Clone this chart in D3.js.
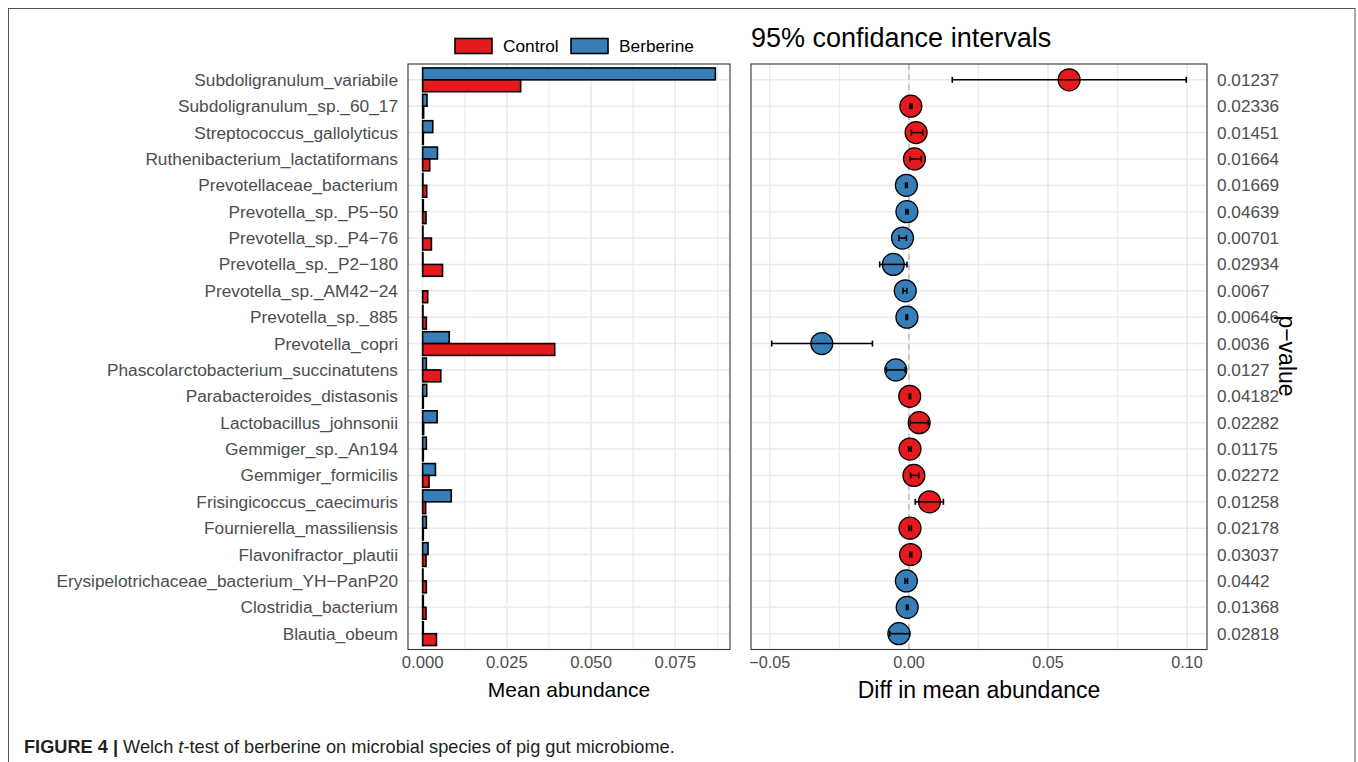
<!DOCTYPE html>
<html><head><meta charset="utf-8">
<script src="https://cdn.jsdelivr.net/npm/d3@7"></script>
<style>
html,body{margin:0;padding:0;background:#fff;}
svg text{font-family:"Liberation Sans",Arial,Helvetica,sans-serif;}
</style></head>
<body>
<svg id="chart" width="1358" height="762"></svg>
<script>
// ---------- DATA ----------
const species = ["Subdoligranulum_variabile","Subdoligranulum_sp._60_17","Streptococcus_gallolyticus",
"Ruthenibacterium_lactatiformans","Prevotellaceae_bacterium","Prevotella_sp._P5\u221250","Prevotella_sp._P4\u221276",
"Prevotella_sp._P2\u2212180","Prevotella_sp._AM42\u221224","Prevotella_sp._885","Prevotella_copri",
"Phascolarctobacterium_succinatutens","Parabacteroides_distasonis","Lactobacillus_johnsonii","Gemmiger_sp._An194",
"Gemmiger_formicilis","Frisingicoccus_caecimuris","Fournierella_massiliensis","Flavonifractor_plautii",
"Erysipelotrichaceae_bacterium_YH\u2212PanP20","Clostridia_bacterium","Blautia_obeum"];
const berberineMean = [0.0869,0.0013,0.0030,0.0044,0.0001,0.0002,0.0001,0.0001,0.0000,0.0001,0.0079,0.0011,0.0012,0.0043,0.0011,0.0038,0.0085,0.0011,0.0016,0.0001,0.0002,0.0002];
const controlMean   = [0.0291,0.0003,0.0002,0.0021,0.0012,0.0010,0.0026,0.0059,0.0015,0.0011,0.0392,0.0054,0.0002,0.0003,0.0002,0.0019,0.0009,0.0002,0.0010,0.0011,0.0010,0.0041];
const diffEstimate  = [0.0576,0.0007,0.0026,0.0020,-0.0009,-0.0007,-0.0023,-0.0056,-0.0013,-0.0007,-0.0313,-0.0047,0.0003,0.0037,0.0004,0.0018,0.0074,0.0004,0.0006,-0.0009,-0.0006,-0.0036];
const diffLower     = [0.0156,0.0004,0.0009,0.0004,-0.0012,-0.0011,-0.0036,-0.0105,-0.0021,-0.0010,-0.0493,-0.0081,0.0001,0.0005,-0.0001,0.0006,0.0023,0.0000,0.0003,-0.0014,-0.0009,-0.0069];
const diffUpper     = [0.0997,0.0011,0.0050,0.0044,-0.0006,-0.0003,-0.0009,-0.0007,-0.0007,-0.0005,-0.0131,-0.0013,0.0006,0.0070,0.0008,0.0036,0.0124,0.0009,0.0010,-0.0005,-0.0003,0.0003];
const pValues = ["0.01237","0.02336","0.01451","0.01664","0.01669","0.04639","0.00701","0.02934","0.0067","0.00646","0.0036","0.0127","0.04182","0.02282","0.01175","0.02272","0.01258","0.02178","0.03037","0.0442","0.01368","0.02818"];
const groups = ["Control","Berberine"];
const groupColors = ["#E41A1C","#377EB8"];
const leftTicks = [0,0.025,0.05,0.075];
const rightTicks = [-0.05,0,0.05,0.10];

// ---------- LAYOUT ----------
const svg = d3.select("#chart");
const panelTop = 64, panelBottom = 649.5;
const L = {x0:408, x1:730};
const R = {x0:751, x1:1207};
const grid = "#EBEBEB", border = "#333333", txt = "#4D4D4D";

svg.append("rect").attr("x",8.5).attr("y",8.5).attr("width",1346.5).attr("height",800)
  .attr("fill","none").attr("stroke","#555").attr("stroke-width",1);

const y = d3.scalePoint().domain(species).range([panelTop,panelBottom]).padding(0.6);
const step = y.step();

const maxMean = d3.max(berberineMean.concat(controlMean));
const xL = d3.scaleLinear().domain([-0.05*maxMean, 1.05*maxMean]).range([L.x0,L.x1]);
const rMin = d3.min(diffLower), rMax = d3.max(diffUpper), rR = rMax - rMin;
const xR = d3.scaleLinear().domain([rMin-0.05*rR, rMax+0.05*rR]).range([R.x0,R.x1]);

function minorOf(ticks, scale){
  const st = ticks[1]-ticks[0];
  const out=[]; const [d0,d1]=scale.domain();
  for(let v=ticks[0]-st/2; v<=d1; v+=st){ if(v>=d0) out.push(v); }
  return out;
}

function panel(P, xs, ticks){
  const g = svg.append("g");
  g.append("rect").attr("x",P.x0).attr("y",panelTop).attr("width",P.x1-P.x0).attr("height",panelBottom-panelTop).attr("fill","#fff");
  g.selectAll(".mn").data(minorOf(ticks,xs)).enter().append("line")
    .attr("x1",d=>xs(d)).attr("x2",d=>xs(d)).attr("y1",panelTop).attr("y2",panelBottom)
    .attr("stroke",grid).attr("stroke-width",1.1);
  g.selectAll(".mj").data(ticks).enter().append("line")
    .attr("x1",d=>xs(d)).attr("x2",d=>xs(d)).attr("y1",panelTop).attr("y2",panelBottom)
    .attr("stroke",grid).attr("stroke-width",1.6);
  g.selectAll(".hy").data(species).enter().append("line")
    .attr("x1",P.x0).attr("x2",P.x1).attr("y1",d=>y(d)).attr("y2",d=>y(d))
    .attr("stroke",grid).attr("stroke-width",1.6);
  return g;
}

// ---------- LEFT PANEL ----------
const gl = panel(L, xL, leftTicks);
const bw = step*0.45;
gl.selectAll(".bb").data(species).enter().append("rect")
  .attr("x",xL(0)).attr("y",d=>y(d)-bw).attr("height",bw)
  .attr("width",(d,i)=>xL(berberineMean[i])-xL(0))
  .attr("fill",groupColors[1]).attr("stroke","#000").attr("stroke-width",1.6);
gl.selectAll(".cb").data(species).enter().append("rect")
  .attr("x",xL(0)).attr("y",d=>y(d)).attr("height",bw)
  .attr("width",(d,i)=>xL(controlMean[i])-xL(0))
  .attr("fill",groupColors[0]).attr("stroke","#000").attr("stroke-width",1.6);
svg.append("rect").attr("x",L.x0).attr("y",panelTop).attr("width",L.x1-L.x0).attr("height",panelBottom-panelTop)
  .attr("fill","none").attr("stroke",border).attr("stroke-width",1.1);

svg.append("g").selectAll("text").data(species).enter().append("text")
  .attr("x",398).attr("y",d=>y(d)).attr("dy","0.35em").attr("text-anchor","end")
  .attr("font-size",17.3).attr("fill",txt).text(d=>d);
const fmt3 = d3.format(".3f");
svg.append("g").selectAll("text").data(leftTicks).enter().append("text")
  .attr("x",d=>xL(d)).attr("y",668).attr("text-anchor","middle")
  .attr("font-size",16.7).attr("fill",txt).text(d=>fmt3(d));
svg.append("text").attr("x",(L.x0+L.x1)/2).attr("y",697).attr("text-anchor","middle")
  .attr("font-size",21).attr("fill","#000").text("Mean abundance");

// legend
const leg = [{k:0,x:455,tx:503},{k:1,x:571,tx:619}];
leg.forEach(o=>{
  svg.append("rect").attr("x",o.x).attr("y",38.5).attr("width",37).attr("height",15)
    .attr("fill",groupColors[o.k]).attr("stroke","#000").attr("stroke-width",1.6);
  svg.append("text").attr("x",o.tx).attr("y",46).attr("dy","0.36em").attr("font-size",17.3)
    .attr("fill","#000").text(groups[o.k]);
});

// ---------- RIGHT PANEL ----------
const gr = panel(R, xR, rightTicks);
gr.append("line").attr("x1",xR(0)).attr("x2",xR(0)).attr("y1",panelTop).attr("y2",panelBottom)
  .attr("stroke","#BEBEBE").attr("stroke-width",1.6).attr("stroke-dasharray","6,4");
gr.selectAll("circle").data(species).enter().append("circle")
  .attr("cx",(d,i)=>xR(diffEstimate[i])).attr("cy",d=>y(d)).attr("r",11)
  .attr("fill",(d,i)=>diffEstimate[i]>0?groupColors[0]:groupColors[1])
  .attr("stroke","#000").attr("stroke-width",1.2);
const eb = gr.selectAll(".eb").data(species).enter().append("g");
eb.append("line").attr("x1",(d,i)=>xR(diffLower[i])).attr("x2",(d,i)=>xR(diffUpper[i]))
  .attr("y1",d=>y(d)).attr("y2",d=>y(d)).attr("stroke","#000").attr("stroke-width",1.6);
eb.append("line").attr("x1",(d,i)=>xR(diffLower[i])).attr("x2",(d,i)=>xR(diffLower[i]))
  .attr("y1",d=>y(d)-3).attr("y2",d=>y(d)+3).attr("stroke","#000").attr("stroke-width",1.6);
eb.append("line").attr("x1",(d,i)=>xR(diffUpper[i])).attr("x2",(d,i)=>xR(diffUpper[i]))
  .attr("y1",d=>y(d)-3).attr("y2",d=>y(d)+3).attr("stroke","#000").attr("stroke-width",1.6);
svg.append("rect").attr("x",R.x0).attr("y",panelTop).attr("width",R.x1-R.x0).attr("height",panelBottom-panelTop)
  .attr("fill","none").attr("stroke",border).attr("stroke-width",1.1);

const fmt2 = v => (v<0?"\u2212":"") + d3.format(".2f")(Math.abs(v));
svg.append("g").selectAll("text").data(rightTicks).enter().append("text")
  .attr("x",d=>xR(d)).attr("y",668).attr("text-anchor","middle")
  .attr("font-size",16.2).attr("fill",txt).text(d=>fmt2(d));
svg.append("text").attr("x",(R.x0+R.x1)/2).attr("y",698).attr("text-anchor","middle")
  .attr("font-size",23).attr("fill","#000").text("Diff in mean abundance");
svg.append("g").selectAll("text").data(species).enter().append("text")
  .attr("x",1217).attr("y",d=>y(d)).attr("dy","0.35em")
  .attr("font-size",17.2).attr("fill",txt).text((d,i)=>pValues[i]);
svg.append("text").attr("transform","translate(1287,356) rotate(90)").attr("dy","0.35em")
  .attr("text-anchor","middle").attr("font-size",23).attr("fill","#000").text("p\u2212value");
svg.append("text").attr("x",751).attr("y",47).attr("font-size",27).attr("fill","#000")
  .text("95% confidance intervals");

// caption
const cap = svg.append("text").attr("x",24).attr("y",753).attr("font-size",18.2).attr("fill","#231F20");
cap.append("tspan").attr("font-weight","bold").text("FIGURE 4 | ");
cap.append("tspan").text("Welch ");
cap.append("tspan").attr("font-style","italic").text("t");
cap.append("tspan").text("-test of berberine on microbial species of pig gut microbiome.");
</script>
</body></html>
